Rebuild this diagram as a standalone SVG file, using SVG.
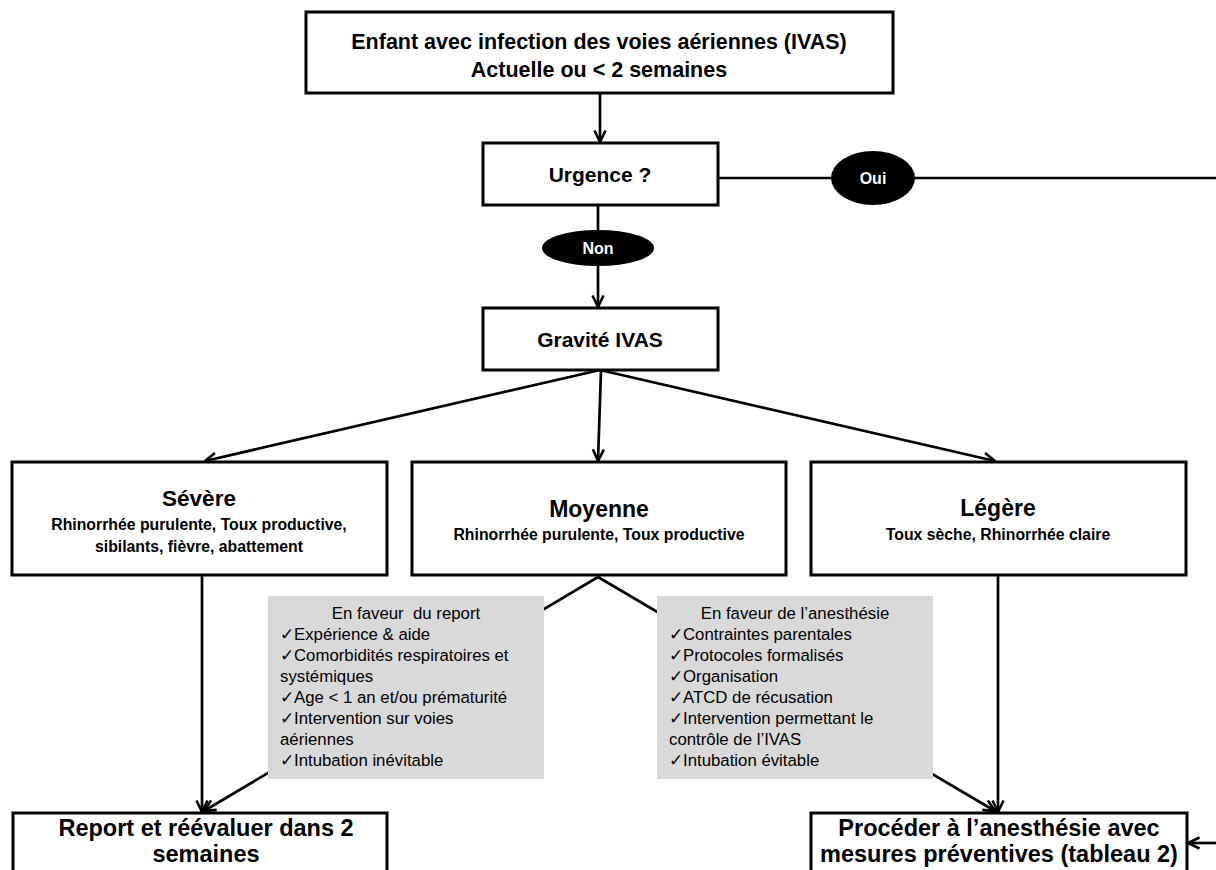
<svg xmlns="http://www.w3.org/2000/svg" width="1216" height="870" viewBox="0 0 1216 870">
<style>
.box{fill:#fff;stroke:#000;stroke-width:3}
.gray{fill:#d9d9d9;stroke:none}
.ln{fill:none;stroke:#000;stroke-width:2.7}
.t{font-family:"Liberation Sans",Arial,sans-serif;font-weight:bold;fill:#000;text-anchor:middle}
.w{font-family:"Liberation Sans",Arial,sans-serif;font-weight:bold;fill:#fff;text-anchor:middle;font-size:16px}
.g{font-family:"Liberation Sans",Arial,sans-serif;font-size:16.8px;fill:#000}
</style>
<defs>
<marker id="arr" viewBox="0 0 14 14" refX="13" refY="7" markerWidth="14" markerHeight="14" markerUnits="userSpaceOnUse" orient="auto">
<path d="M1.5,1.5 L13,7 L1.5,12.5" fill="none" stroke="#000" stroke-width="2.6"/>
</marker>
</defs>
<rect width="1216" height="870" fill="#fff"/>
<g id="connectors">
<line class="ln" x1="600" y1="94" x2="600" y2="142" marker-end="url(#arr)"/>
<line class="ln" x1="718" y1="178" x2="1216" y2="178"/>
<line class="ln" x1="598" y1="205" x2="598" y2="307" marker-end="url(#arr)"/>
<line class="ln" x1="600" y1="370" x2="205" y2="461" marker-end="url(#arr)"/>
<line class="ln" x1="601" y1="370" x2="598" y2="461" marker-end="url(#arr)"/>
<line class="ln" x1="600" y1="370" x2="995" y2="461" marker-end="url(#arr)"/>
<line class="ln" x1="202" y1="576" x2="202" y2="812" marker-end="url(#arr)"/>
<line class="ln" x1="998" y1="576" x2="998" y2="812" marker-end="url(#arr)"/>
<line class="ln" x1="598" y1="577" x2="204" y2="811" marker-end="url(#arr)"/>
<line class="ln" x1="598" y1="577" x2="995" y2="811" marker-end="url(#arr)"/>
<line class="ln" x1="1216" y1="843" x2="1188" y2="843" marker-end="url(#arr)"/>
</g>
<g id="n-top">
<rect class="box" x="306" y="12" width="587" height="81"/>
<text class="t" x="599" y="49" font-size="21.5">Enfant avec infection des voies aériennes (IVAS)</text>
<text class="t" x="599" y="77" font-size="21.5">Actuelle ou &lt; 2 semaines</text>
</g>
<g id="n-urgence">
<rect class="box" x="483" y="143" width="235" height="62"/>
<text class="t" x="600" y="182" font-size="21">Urgence ?</text>
</g>
<g id="n-oui">
<ellipse cx="873" cy="178" rx="42" ry="27" fill="#000"/>
<text class="w" x="873" y="184">Oui</text>
</g>
<g id="n-non">
<ellipse cx="598" cy="248" rx="56" ry="18" fill="#000"/>
<text class="w" x="598" y="254">Non</text>
</g>
<g id="n-gravite">
<rect class="box" x="483" y="308" width="235" height="62"/>
<text class="t" x="600" y="347" font-size="21">Gravité IVAS</text>
</g>
<g id="n-severe">
<rect class="box" x="12" y="462" width="375" height="113"/>
<text class="t" x="199" y="506" font-size="22.5">Sévère</text>
<text class="t" x="199" y="530" font-size="15.8">Rhinorrhée purulente, Toux productive,</text>
<text class="t" x="199" y="552" font-size="15.8">sibilants, fièvre, abattement</text>
</g>
<g id="n-moyenne">
<rect class="box" x="412" y="462" width="374" height="113"/>
<text class="t" x="599" y="517" font-size="23">Moyenne</text>
<text class="t" x="599" y="540" font-size="15.8">Rhinorrhée purulente, Toux productive</text>
</g>
<g id="n-legere">
<rect class="box" x="811" y="462" width="375" height="113"/>
<text class="t" x="998" y="516" font-size="23">Légère</text>
<text class="t" x="998" y="540" font-size="15.8">Toux sèche, Rhinorrhée claire</text>
</g>
<g id="n-report-crit">
<rect class="gray" x="268" y="596" width="276" height="183"/>
<text class="g" x="406" y="619" text-anchor="middle" xml:space="preserve">En faveur  du report</text>
<text class="g" x="280" y="640">✓Expérience &amp; aide</text>
<text class="g" x="280" y="661">✓Comorbidités respiratoires et</text>
<text class="g" x="280" y="682">systémiques</text>
<text class="g" x="280" y="703">✓Age &lt; 1 an et/ou prématurité</text>
<text class="g" x="280" y="724">✓Intervention sur voies</text>
<text class="g" x="280" y="745">aériennes</text>
<text class="g" x="280" y="766">✓Intubation inévitable</text>
</g>
<g id="n-anesth-crit">
<rect class="gray" x="657" y="596" width="276" height="183"/>
<text class="g" x="795" y="619" text-anchor="middle">En faveur de l’anesthésie</text>
<text class="g" x="669" y="640">✓Contraintes parentales</text>
<text class="g" x="669" y="661">✓Protocoles formalisés</text>
<text class="g" x="669" y="682">✓Organisation</text>
<text class="g" x="669" y="703">✓ATCD de récusation</text>
<text class="g" x="669" y="724">✓Intervention permettant le</text>
<text class="g" x="669" y="745">contrôle de l’IVAS</text>
<text class="g" x="669" y="766">✓Intubation évitable</text>
</g>
<g id="n-report">
<rect class="box" x="13" y="813" width="374" height="70"/>
<text class="t" x="206" y="836" font-size="23.5">Report et réévaluer dans 2</text>
<text class="t" x="206" y="862" font-size="23.5">semaines</text>
</g>
<g id="n-proceder">
<rect class="box" x="811" y="813" width="376" height="70"/>
<text class="t" x="999" y="836" font-size="23.5">Procéder à l’anesthésie avec</text>
<text class="t" x="999" y="862" font-size="23.5">mesures préventives (tableau 2)</text>
</g>
</svg>
